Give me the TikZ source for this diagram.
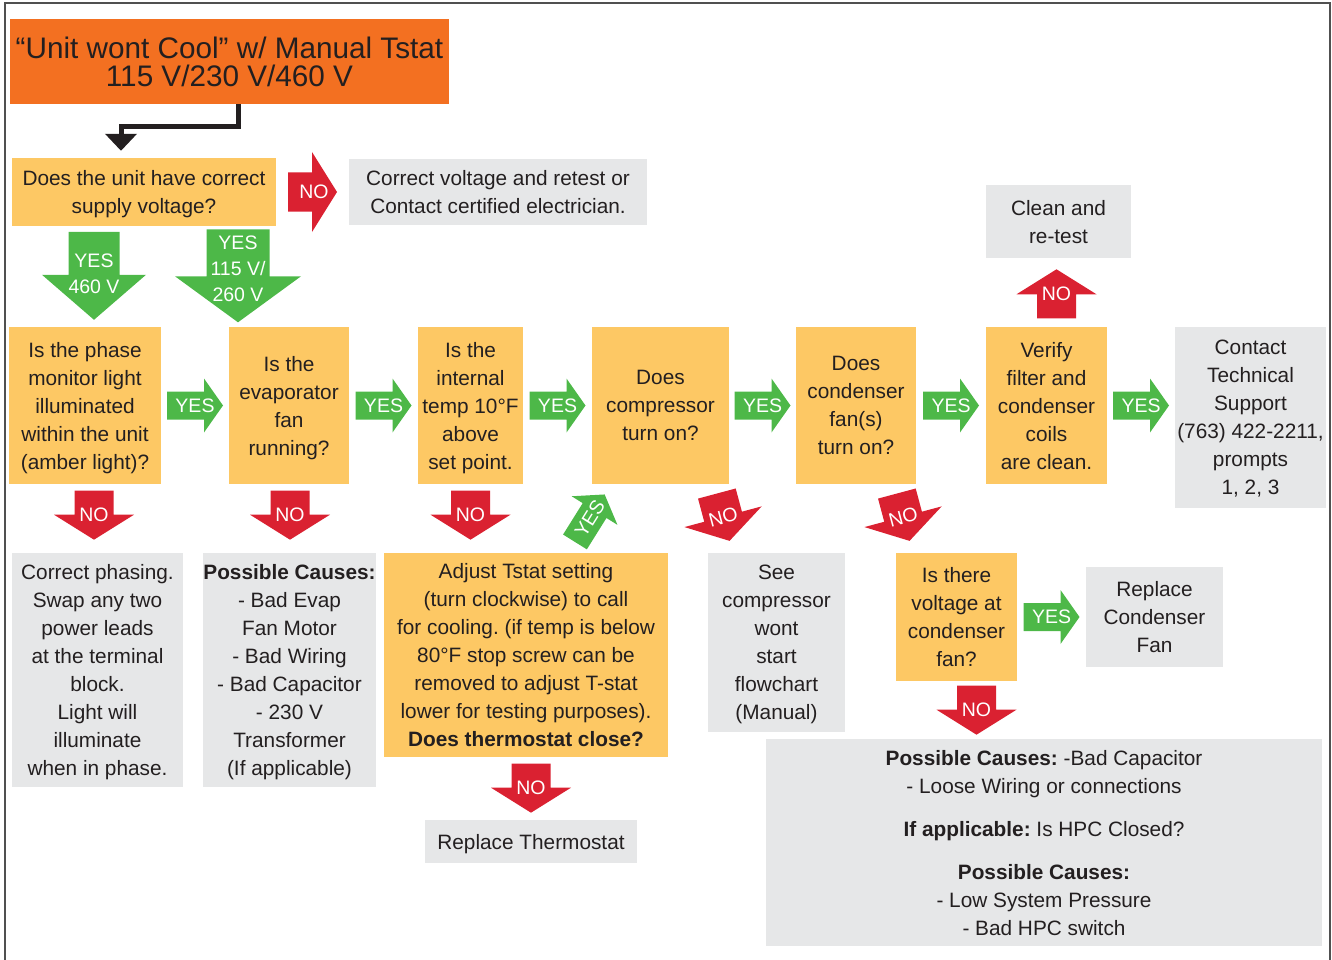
\documentclass[tikz,border=0pt]{standalone}
\usepackage{fontspec}
\setmainfont{Liberation Sans}
\usetikzlibrary{arrows.meta,calc}
\frenchspacing

\definecolor{titleorange}{HTML}{F37021}
\definecolor{qyellow}{HTML}{FDC864}
\definecolor{agray}{HTML}{E6E7E8}
\definecolor{nored}{HTML}{DA2131}
\definecolor{yesgreen}{HTML}{4DB848}
\definecolor{darktext}{HTML}{231F20}
\definecolor{framegray}{HTML}{505050}

\newcommand{\boxfont}{\fontsize{20.8}{28}\selectfont}
\newcommand{\titlefont}{\fontsize{29.7}{28}\selectfont}
\newcommand{\arrowfont}{\fontsize{19.5}{26}\selectfont}

\tikzset{
  box/.style={inner sep=0pt, align=center, text=darktext, font=\boxfont, text depth=-2pt},
  qbox/.style={box, fill=qyellow},
  abox/.style={box, fill=agray},
  arrowlabel/.style={inner sep=0pt, align=center, text=white, font=\arrowfont},
  elbow/.style={line width=5pt, draw=darktext, -{Triangle[width=31pt,length=17pt]}},
}

% colour, centre, direction, length, head length, body half, head half, label options, label
\newcommand{\blockarrow}[9]{%
  \begin{scope}[shift={#2},rotate=#3]
    \fill[#1] (-#4/2,-#6) -- ({#4/2-#5},-#6) -- ({#4/2-#5},-#7) -- (#4/2,0)
      -- ({#4/2-#5},#7) -- ({#4/2-#5},#6) -- (-#4/2,#6) -- cycle;
  \end{scope}
  \node[arrowlabel,#8] at #2 {#9};}
\newcommand{\noarrow}[3]{\blockarrow{nored}{#1}{#2}{49}{25}{19.5}{40}{#3}{NO}}
\newcommand{\yesarrow}[3]{\blockarrow{yesgreen}{#1}{#2}{56}{19}{14}{27}{#3}{YES}}

\begin{document}
\begin{tikzpicture}[x=1pt,y=-1pt]
  \useasboundingbox (0,0) rectangle (1332,960);
  \draw[framegray,line width=1.5pt] (5,960) |- (1330,3) -- (1330,960);

  % top
  \node[box, fill=titleorange, font=\titlefont, text depth=, minimum width=439, minimum height=85] (title) at (229.5,61.5)
    {“Unit wont Cool” w/ Manual Tstat\\115 V/230 V/460 V};
  \node[qbox, minimum width=264, minimum height=68] (q1) at (144,192)
    {Does the unit have correct\\supply voltage?};
  \node[abox, minimum width=298, minimum height=66] (elec) at (498,192)
    {Correct voltage and retest or\\Contact certified electrician.};
  \node[abox, minimum width=145, minimum height=73] (clean) at (1058.5,221.5)
    {Clean and\\re-test};

  % main row
  \node[qbox, minimum width=152, minimum height=157] (phase) at (85,405.5)
    {Is the phase\\monitor light\\illuminated\\within the unit\\(amber light)?};
  \node[qbox, minimum width=120, minimum height=157] (evap) at (289,405.5)
    {Is the\\evaporator\\fan\\running?};
  \node[qbox, minimum width=105, minimum height=157] (temp) at (470.5,405.5)
    {Is the\\internal\\temp 10°F\\above\\set point.};
  \node[qbox, minimum width=137, minimum height=157] (comp) at (660.5,405.5)
    {Does\\compressor\\turn on?};
  \node[qbox, minimum width=120, minimum height=157] (cfan) at (856,405.5)
    {Does\\condenser\\fan(s)\\turn on?};
  \node[qbox, minimum width=121, minimum height=157] (coils) at (1046.5,405.5)
    {Verify\\filter and\\condenser\\coils\\are clean.};
  \node[abox, minimum width=151, minimum height=181] (support) at (1250.5,417.5)
    {Contact\\Technical\\Support\\(763) 422-2211,\\prompts\\1, 2, 3};

  % lower row
  \node[abox, minimum width=171, minimum height=234] (phasefix) at (97.5,670)
    {Correct phasing.\\Swap any two\\power leads\\at the terminal\\block.\\Light will\\illuminate\\when in phase.};
  \node[abox, minimum width=171, minimum height=234] (evapfix) at (289.5,670)
    {\textbf{Possible Causes:}\\- Bad Evap\\Fan Motor\\- Bad Wiring\\- Bad Capacitor\\- 230 V\\Transformer\\(If applicable)};
  \node[qbox, minimum width=284, minimum height=204] (adjust) at (526,655)
    {Adjust Tstat setting\\(turn clockwise) to call\\for cooling. (if temp is below\\80°F stop screw can be\\removed to adjust T-stat\\lower for testing purposes).\\\textbf{Does thermostat close?}};
  \node[abox, minimum width=212, minimum height=43] (thermo) at (531,841.5)
    {Replace Thermostat};
  \node[abox, minimum width=137, minimum height=179] (compfix) at (776.5,642.5)
    {See\\compressor\\wont\\start\\flowchart\\(Manual)};
  \node[qbox, minimum width=121, minimum height=128] (fanvolt) at (956.5,617)
    {Is there\\voltage at\\condenser\\fan?};
  \node[abox, minimum width=137, minimum height=100] (repfan) at (1154.5,617)
    {Replace\\Condenser\\Fan};
  \node[abox, minimum width=556, minimum height=207] (hpc) at (1044,842.5)
    {\textbf{Possible Causes:} -Bad Capacitor\\- Loose Wiring or connections\\[15pt]
     \textbf{If applicable:} Is HPC Closed?\\[15pt]
     \textbf{Possible Causes:}\\- Low System Pressure\\- Bad HPC switch};

  % arrows
  \draw[elbow] ([xshift=8.5pt]title.south) -- ++(0,22) -| ([xshift=-23pt,yshift=7pt]q1.north);
  \noarrow{($(q1.east)!.5!(elec.west)$)}{0}{xshift=1.5pt}
  \blockarrow{yesgreen}{($(phase.north)+(9,-51)$)}{-90}{88}{45}{25.5}{52}{yshift=2.5pt}{YES\\460 V}
  \blockarrow{yesgreen}{($(evap.north)+(-51,-51)$)}{-90}{93}{46}{31.5}{63}{yshift=7pt}{YES\\115 V/\\260 V}

  \yesarrow{($(phase.east)!.5!(evap.west)$)}{0}{}
  \yesarrow{($(evap.east)!.5!(temp.west)$)}{0}{}
  \yesarrow{($(temp.east)!.5!(comp.west)$)}{0}{}
  \yesarrow{($(comp.east)!.5!(cfan.west)$)}{0}{}
  \yesarrow{($(cfan.east)!.5!(coils.west)$)}{0}{}
  \yesarrow{($(coils.east)!.5!(coils.east -| support.west)$)}{0}{}
  \noarrow{($(coils.north)+(10,-33)$)}{90}{}

  \noarrow{($(phase.south)+(9,31)$)}{-90}{}
  \noarrow{($(evap.south)+(1,31)$)}{-90}{}
  \noarrow{($(temp.south)+(0,31)$)}{-90}{}
  \yesarrow{($(comp.south west)+(-2,34)$)}{58}{rotate=58}
  \noarrow{($(comp.south east)+(-6,33)$)}{-75}{rotate=15}
  \noarrow{($(cfan.south east)+(-13,33)$)}{-75}{rotate=15}

  \noarrow{($(adjust.south)+(5,31)$)}{-90}{}
  \yesarrow{($(fanvolt.east)!.5!(repfan.west)$)}{0}{}
  \noarrow{($(fanvolt.south)+(20,29)$)}{-90}{}
\end{tikzpicture}
\end{document}
